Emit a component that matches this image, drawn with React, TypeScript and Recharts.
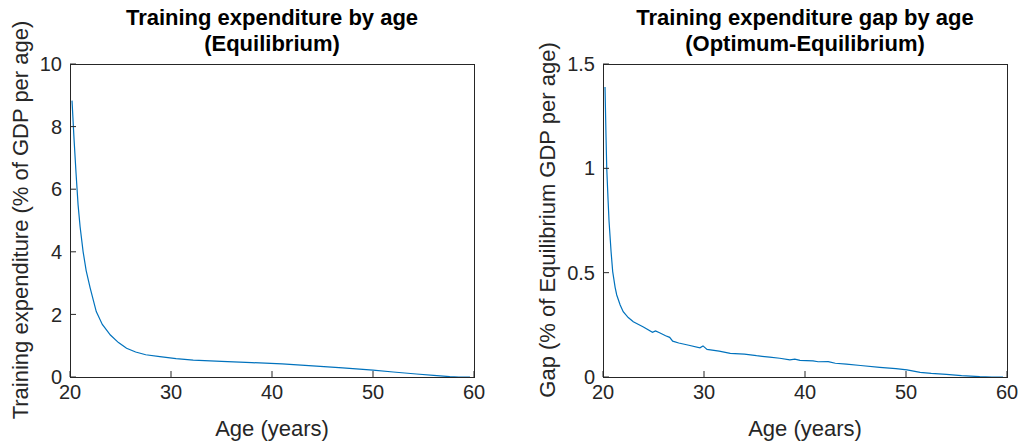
import React from 'react';
import { LineChart, Line, XAxis, YAxis } from 'recharts';

const AGE_TICKS = [20, 30, 40, 50, 60];
const EQ_TICKS = [0, 2, 4, 6, 8, 10];
const GAP_TICKS = [0, 0.5, 1, 1.5];

// left panel: training expenditure, equilibrium
const eqAges = [20.2, 20.4, 20.6, 20.8, 21.0, 21.3, 21.6, 22.0, 22.6, 23.2, 24.0, 24.8, 25.6, 26.5, 27.5, 28.9, 30.5, 32.2, 35, 38, 41, 44.4, 47, 50, 52, 54.3, 56, 57.6, 58.5, 59.6];
const eqValues = [8.83, 7.6, 6.5, 5.5, 4.8, 4.0, 3.4, 2.84, 2.09, 1.68, 1.34, 1.1, 0.92, 0.8, 0.71, 0.65, 0.59, 0.54, 0.5, 0.46, 0.42, 0.35, 0.29, 0.22, 0.16, 0.096, 0.05, 0.01, 0, 0];

// right panel: gap optimum - equilibrium
const gapAges = [20.2, 20.3, 20.37, 20.5, 20.6, 20.8, 20.96, 21.2, 21.36, 21.7, 22.0, 22.5, 23.0, 24.0, 24.9, 25.2, 25.6, 26.2, 26.6, 26.9, 27.5, 28.5, 29.6, 29.9, 30.3, 31.5, 32.6, 34, 35.2, 36.5, 37.5, 38.5, 39.0, 39.5, 40.8, 41.3, 42.3, 43.0, 44.1, 45.5, 47.4, 49, 50.1, 51.4, 52.5, 54, 55.5, 57.3, 58.5, 59.6];
const gapValues = [1.39, 1.15, 1.0, 0.85, 0.745, 0.6, 0.505, 0.43, 0.393, 0.345, 0.313, 0.285, 0.265, 0.24, 0.214, 0.221, 0.212, 0.198, 0.19, 0.172, 0.163, 0.152, 0.14, 0.149, 0.132, 0.124, 0.113, 0.11, 0.102, 0.095, 0.09, 0.082, 0.086, 0.08, 0.077, 0.073, 0.074, 0.066, 0.062, 0.055, 0.046, 0.04, 0.034, 0.022, 0.017, 0.013, 0.007, 0.002, 0, 0];

const eqData = eqAges.map((age, i) => ({ age, value: eqValues[i] }));
const gapData = gapAges.map((age, i) => ({ age, value: gapValues[i] }));

const FONT = '"Liberation Sans", Arial, Helvetica, sans-serif';
const AXIS = '#262626';

// tick text styling and inward tick marks done in css, keeps the axis props plain
const css = `
.panel .recharts-cartesian-axis-tick-value { fill: ${AXIS}; font-family: ${FONT}; font-size: 20px; }
.panel .recharts-xAxis .recharts-cartesian-axis-tick-value { transform: translateY(7px); }
.panel .recharts-xAxis .recharts-cartesian-axis-tick-line { transform: translateY(-6px); }
.panel .recharts-yAxis .recharts-cartesian-axis-tick-value { transform: translateX(-2px); }
.panel .recharts-yAxis .recharts-cartesian-axis-tick-line { transform: translateX(6px); }
`;

function Panel({ data, yTicks, yMax, yWidth, right }: any) {
  const tickLine = { stroke: AXIS, strokeWidth: 1 };
  return (
    <LineChart width={yWidth + 404 + right} height={446} data={data} margin={{ top: 64, right, bottom: 0, left: 0 }}>
      <XAxis xAxisId="b" type="number" dataKey="age" domain={[20, 60]} ticks={AGE_TICKS} interval={0} height={69} axisLine={false} tickLine={tickLine} />
      <YAxis yAxisId="l" type="number" domain={[0, yMax]} ticks={yTicks} interval={0} width={yWidth} axisLine={false} tickLine={tickLine} />
      <Line xAxisId="b" yAxisId="l" type="linear" dataKey="value" stroke="#0072BD" strokeWidth={1.2} dot={false} isAnimationActive={false} />
    </LineChart>
  );
}

const titleStyle = (cx: number): React.CSSProperties => ({
  position: 'absolute',
  left: cx - 240,
  top: 5,
  width: 480,
  textAlign: 'center',
  fontFamily: FONT,
  fontWeight: 'bold',
  fontSize: 22,
  lineHeight: '26px',
  color: '#000',
});

const labelStyle = (cx: number, cy: number, rotate: boolean): React.CSSProperties => ({
  position: 'absolute',
  left: cx,
  top: cy,
  transform: `translate(-50%, -50%)${rotate ? ' rotate(-90deg)' : ''}`,
  whiteSpace: 'nowrap',
  fontFamily: FONT,
  fontSize: 22,
  lineHeight: '22px',
  color: AXIS,
});

// plot box outline (matlab "box on")
const frameStyle = (left: number): React.CSSProperties => ({
  position: 'absolute',
  left,
  top: 64,
  width: 405,
  height: 314,
  boxSizing: 'border-box',
  border: `1px solid ${AXIS}`,
  pointerEvents: 'none',
});

export default function App() {
  return (
    <div style={{ position: 'absolute', left: 0, top: 0, width: 1021, height: 446, background: '#fff', overflow: 'hidden' }}>
      <style>{css}</style>
      <div className="panel" style={{ position: 'absolute', left: 0, top: 0 }}>
        <Panel data={eqData} yTicks={EQ_TICKS} yMax={10} yWidth={70} right={36} />
      </div>
      <div className="panel" style={{ position: 'absolute', left: 521, top: 0 }}>
        <Panel data={gapData} yTicks={GAP_TICKS} yMax={1.5} yWidth={82} right={14} />
      </div>
      <div style={frameStyle(70)} />
      <div style={frameStyle(603)} />
      <div style={titleStyle(272)}>
        Training expenditure by age
        <br />
        (Equilibrium)
      </div>
      <div style={titleStyle(805)}>
        Training expenditure gap by age
        <br />
        (Optimum-Equilibrium)
      </div>
      <div style={labelStyle(21, 220, true)}>Training expenditure (% of GDP per age)</div>
      <div style={labelStyle(548, 220, true)}>Gap (% of Equilibrium GDP per age)</div>
      <div style={labelStyle(272, 429, false)}>Age (years)</div>
      <div style={labelStyle(805, 429, false)}>Age (years)</div>
    </div>
  );
}
